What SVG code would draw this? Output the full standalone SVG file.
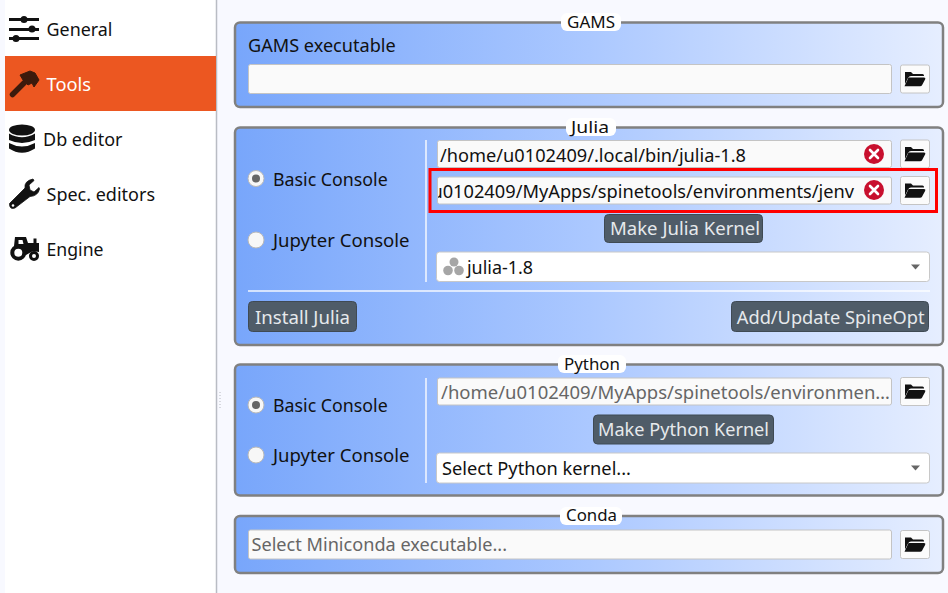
<svg xmlns="http://www.w3.org/2000/svg" xmlns:xlink="http://www.w3.org/1999/xlink" width="948" height="593" viewBox="0 0 948 593">
<style>
text{font-family:"Noto Sans","Open Sans","Liberation Sans",sans-serif;font-size:18px;fill:#111}
.panel{stroke:#808080;stroke-width:2.5;fill:url(#pg)}
.title{font-size:17px}
.field{fill:#fafafa;stroke:#c4c4c4;stroke-width:1}
.tool{fill:#fbfbfb;stroke:#c4c4c4;stroke-width:1}
.btn{fill:#4f5c68;stroke:#3f4a54;stroke-width:1}
.btnt{fill:#e6e9ec}
.sep{stroke:#fff;stroke-width:1.5;opacity:.9}
.ph{fill:#666}
.radio{fill:#f7f7f7;stroke:#b8b8b8;stroke-width:1}
</style>
<defs>
<linearGradient id="pg" x1="0" y1="0" x2="1" y2="0"><stop offset="0" stop-color="#78a6fb"/><stop offset=".5" stop-color="#abc8ff"/><stop offset="1" stop-color="#e6eeff"/></linearGradient>
<g id="folder"><path d="M-10-7h6l2 2h9.500q1.500 0 1.500 1.500v.5h-13q-2 0-3 2l-3 6z" fill="#111"/><path d="M-6.500-1.500h15.500q2 0 1.200 1.800l-3.200 6q-.5 1-2 1h-15.500z" fill="#111"/></g>
<g id="clear"><circle r="10" fill="#c8102e"/><path d="M-4-4L4 4M4-4L-4 4" stroke="#fff" stroke-width="2.600" stroke-linecap="round"/></g>
<g id="open"><rect x="-14.500" y="-14" width="29" height="28" rx="2" class="tool"/><use xlink:href="#folder"/></g>
</defs>
<rect width="948" height="593" fill="#f8f9ff"/>
<rect x="5" width="211" height="593" fill="#fff"/>
<path d="M216.500 0V593" stroke="#b9bcc4" stroke-width="1.500"/>
<path d="M220 392V408" stroke="#b5b8c0" stroke-width="1" stroke-dasharray="1 2"/>

<g id="nav-general">
<path d="M9 19.500H39M9 29.500H39M9 38.500H39" stroke="#111" stroke-width="3"/>
<circle cx="24" cy="19.500" r="3.500" fill="#111"/><circle cx="32" cy="29" r="3.500" fill="#111"/><circle cx="16" cy="38.500" r="3.500" fill="#111"/>
<text x="46.500" y="36" textLength="66" lengthAdjust="spacingAndGlyphs">General</text>
</g>
<g id="nav-tools">
<rect x="5" y="56" width="211" height="55" fill="#ec5721"/>
<path d="M20 75L30 71L35 73L39 80L34 87L32 83L28 85L23 80Z" fill="#3c1a0c" stroke="#3c1a0c" stroke-linejoin="round"/>
<path d="M12.500 94.500L28 79" stroke="#3c1a0c" stroke-width="5.500" stroke-linecap="round"/>
<text x="46.500" y="91" textLength="44.500" lengthAdjust="spacingAndGlyphs" style="fill:#fff">Tools</text>
</g>
<g id="nav-db">
<ellipse cx="22" cy="130" rx="13" ry="5.500" fill="#111"/>
<path d="M9 133.500Q22 141 35 133.500V140Q22 146 9 140Z" fill="#111"/>
<path d="M9 143Q22 150 35 143V148.500Q22 157 9 148.500Z" fill="#111"/>
<text x="43" y="146" textLength="79.500" lengthAdjust="spacingAndGlyphs">Db editor</text>
</g>
<g id="nav-spec">
<path d="M9.500 203.500L25 188Q24 181 33 179L34 180.500L29 185L30 190L34 192L39 187.500L39.500 189Q38 196 30 196.500L15 208Q9.500 210 9.500 203.500Z" fill="#111" stroke="#111" stroke-width=".8" stroke-linejoin="round"/>
<circle cx="13" cy="205.500" r="1.300" fill="#fff"/>
<text x="46.500" y="201" textLength="108.500" lengthAdjust="spacingAndGlyphs">Spec. editors</text>
</g>
<g id="nav-engine">
<path fill-rule="evenodd" d="M15 237H26L28 243H33.500V238.500H36.500V243H39V252L33 251L26 255L16 246H14ZM18.500 240V244H23.500L22.500 240Z" fill="#111"/>
<circle cx="18.300" cy="252.700" r="6" fill="#fff" stroke="#111" stroke-width="4"/>
<circle cx="34" cy="256" r="3.500" fill="#fff" stroke="#111" stroke-width="3"/>
<text x="46.500" y="256" textLength="57" lengthAdjust="spacingAndGlyphs">Engine</text>
</g>

<g id="panel-gams">
<rect class="panel" x="235" y="22.500" width="708" height="84.500" rx="5"/>
<rect x="561" y="13" width="60" height="18" rx="6" fill="#fff"/>
<text class="title" x="567" y="27.500" textLength="48" lengthAdjust="spacingAndGlyphs">GAMS</text>
<text x="248" y="52" textLength="147.700" lengthAdjust="spacingAndGlyphs">GAMS executable</text>
<rect class="field" x="248.500" y="64.500" width="643" height="29" rx="2"/>
<use xlink:href="#open" transform="translate(915 79)"/>
</g>

<g id="panel-julia">
<rect class="panel" x="235" y="127.500" width="708" height="217.500" rx="5"/>
<rect x="566" y="118" width="50" height="18" rx="6" fill="#fff"/>
<text class="title" x="571" y="132.500" textLength="38" lengthAdjust="spacingAndGlyphs">Julia</text>
<circle class="radio" cx="256" cy="178.500" r="8"/><circle cx="256" cy="178.500" r="4" fill="#666"/>
<text x="273" y="186" textLength="114.700" lengthAdjust="spacingAndGlyphs">Basic Console</text>
<circle class="radio" cx="256" cy="240" r="8"/>
<text x="273" y="247" textLength="136.500" lengthAdjust="spacingAndGlyphs">Jupyter Console</text>
<path class="sep" d="M426 140V282M248 291H930"/>
<rect class="field" x="437.500" y="140.500" width="454" height="27" rx="2"/>
<text x="440" y="161.500" textLength="306" lengthAdjust="spacingAndGlyphs">/home/u0102409/.local/bin/julia-1.8</text>
<use xlink:href="#clear" transform="translate(874 154)"/>
<use xlink:href="#open" transform="translate(915 154)"/>
<rect class="field" x="437.500" y="177" width="454" height="27" rx="2"/>
<svg x="438" y="177" width="426" height="28" viewBox="0 0 426 28"><text x="-6.600" y="21" textLength="422.600" lengthAdjust="spacingAndGlyphs">u0102409/MyApps/spinetools/environments/jenv</text></svg>
<use xlink:href="#clear" transform="translate(874 190)"/>
<use xlink:href="#open" transform="translate(915 190.500)"/>
<rect class="btn" x="604.500" y="214.500" width="158" height="28" rx="4"/>
<text class="btnt" x="610" y="235" textLength="150" lengthAdjust="spacingAndGlyphs">Make Julia Kernel</text>
<rect x="436.500" y="252" width="493" height="29.500" rx="3" fill="#fff" stroke="#c8c8c8"/>
<circle cx="454" cy="262" r="4.500" fill="#a6a6a6"/><circle cx="448" cy="270.500" r="4.800" fill="#a6a6a6"/><circle cx="459" cy="270.500" r="4.800" fill="#a6a6a6"/>
<text x="467" y="274" textLength="66" lengthAdjust="spacingAndGlyphs">julia-1.8</text>
<path d="M911 264.500h9l-4.500 5z" fill="#666"/>
<rect class="btn" x="248.500" y="301.500" width="108" height="30" rx="4"/>
<text class="btnt" x="255" y="324" textLength="95" lengthAdjust="spacingAndGlyphs">Install Julia</text>
<rect class="btn" x="731.500" y="301.500" width="197" height="30" rx="4"/>
<text class="btnt" x="736.800" y="324" textLength="187.700" lengthAdjust="spacingAndGlyphs">Add/Update SpineOpt</text>
</g>

<g id="panel-python">
<rect class="panel" x="235" y="364.500" width="708" height="131" rx="5"/>
<rect x="558" y="355" width="68" height="18" rx="6" fill="#fff"/>
<text class="title" x="564" y="370" textLength="56" lengthAdjust="spacingAndGlyphs">Python</text>
<circle class="radio" cx="256" cy="405" r="8"/><circle cx="256" cy="405" r="4" fill="#666"/>
<text x="273" y="412" textLength="114.700" lengthAdjust="spacingAndGlyphs">Basic Console</text>
<circle class="radio" cx="256" cy="455" r="8"/>
<text x="273" y="462" textLength="136.500" lengthAdjust="spacingAndGlyphs">Jupyter Console</text>
<path class="sep" d="M426 378V483"/>
<rect class="field" x="437.500" y="378" width="454" height="27" rx="2"/>
<text class="ph" x="441" y="399" textLength="449" lengthAdjust="spacingAndGlyphs">/home/u0102409/MyApps/spinetools/environmen…</text>
<use xlink:href="#open" transform="translate(915 391.500)"/>
<rect class="btn" x="593.500" y="415" width="180" height="29" rx="4"/>
<text class="btnt" x="598" y="436" textLength="171" lengthAdjust="spacingAndGlyphs">Make Python Kernel</text>
<rect x="436.500" y="453" width="493" height="30" rx="3" fill="#fff" stroke="#c8c8c8"/>
<text x="442" y="475" textLength="189" lengthAdjust="spacingAndGlyphs">Select Python kernel...</text>
<path d="M911 465.500h9l-4.500 5z" fill="#666"/>
</g>

<g id="panel-conda">
<rect class="panel" x="235" y="516" width="708" height="57" rx="5"/>
<rect x="560" y="507" width="62" height="18" rx="6" fill="#fff"/>
<text class="title" x="566" y="521" textLength="51" lengthAdjust="spacingAndGlyphs">Conda</text>
<rect class="field" x="248.500" y="530" width="643" height="29" rx="2"/>
<text class="ph" x="251.500" y="551" textLength="255.500" lengthAdjust="spacingAndGlyphs">Select Miniconda executable...</text>
<use xlink:href="#open" transform="translate(915 544.500)"/>
</g>

<rect id="highlight" x="430" y="169.500" width="506.500" height="42" fill="none" stroke="#f00" stroke-width="3"/>
</svg>
